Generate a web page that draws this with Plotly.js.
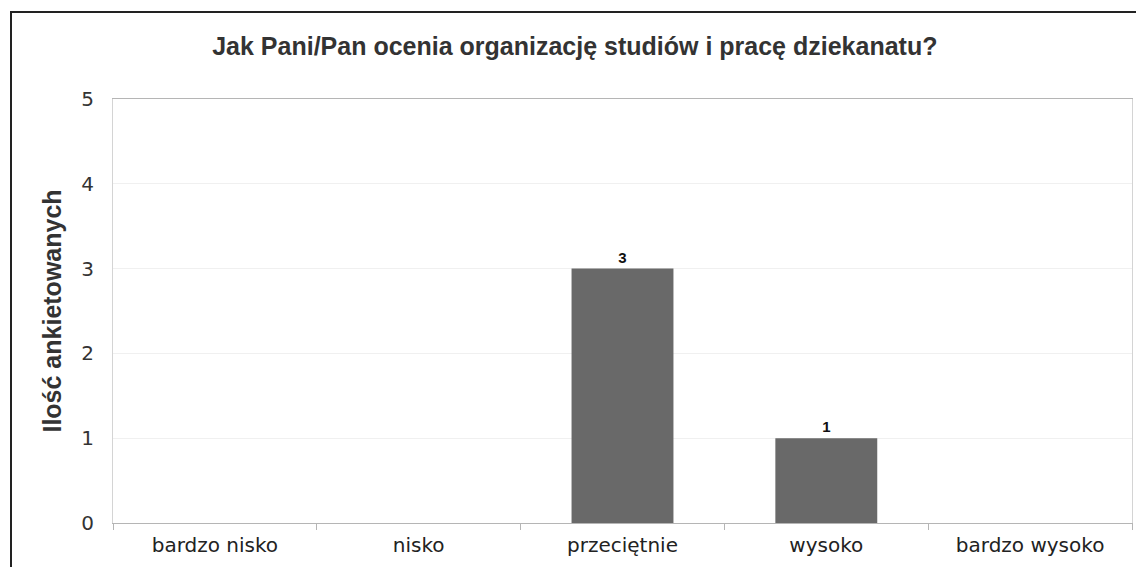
<!DOCTYPE html>
<html>
<head>
<meta charset="utf-8">
<script src="https://cdn.plot.ly/plotly-3.0.1.min.js"></script>
<style>
  html, body { margin: 0; padding: 0; background: #fff; }
  #wrap { position: relative; width: 1136px; height: 567px; overflow: hidden; }
  #chart { position: absolute; left: 0; top: 0; width: 1136px; height: 567px; }
  #frame { position: absolute; left: 10px; top: 11px; width: 1200px; height: 700px;
           border-left: 2px solid #222; border-top: 2px solid #222; pointer-events: none; }
</style>
</head>
<body>
<div id="wrap">
  <div id="chart"></div>
  <div id="frame"></div>
</div>
<script>
const categories = ["bardzo nisko", "nisko", "przeciętnie", "wysoko", "bardzo wysoko"];
const counts = [0, 0, 3, 1, 0];
const barLabels = ["", "", "3", "1", ""];
const yTicks = [0, 1, 2, 3, 4, 5];

const trace = {
  type: "bar",
  x: categories,
  y: counts,
  text: barLabels,
  textposition: "outside",
  cliponaxis: false,
  textfont: { family: "Liberation Sans, Arial, sans-serif", size: 15, color: "#111", weight: "bold" },
  marker: { color: "#696969", line: { width: 0 } },
  hoverinfo: "x+y"
};

const layout = {
  width: 1136,
  height: 567,
  paper_bgcolor: "#ffffff",
  plot_bgcolor: "#ffffff",
  margin: { l: 113, r: 4, t: 99, b: 44 },
  bargap: 0.5,
  showlegend: false,
  title: {
    text: "<b>Jak Pani/Pan ocenia organizację studiów i pracę dziekanatu?</b>",
    font: { family: "Liberation Sans, Arial, sans-serif", size: 25, color: "#333" },
    xref: "container", x: 0.506, xanchor: "center",
    yref: "container", y: 0.918, yanchor: "middle"
  },
  xaxis: {
    type: "category",
    showgrid: false,
    showline: true,
    linecolor: "#b5b5b5",
    linewidth: 1,
    mirror: true,
    ticks: "outside",
    tickson: "boundaries",
    ticklen: 6,
    tickcolor: "#b5b5b5",
    ticklabelstandoff: 4,
    tickfont: { family: "DejaVu Sans, Verdana, sans-serif", size: 20, color: "#222" },
    fixedrange: true
  },
  yaxis: {
    range: [0, 5],
    tickvals: yTicks,
    ticktext: yTicks.map(String),
    showgrid: true,
    gridcolor: "#f0f0f0",
    gridwidth: 1,
    zeroline: false,
    showline: true,
    linecolor: "#d4d4d4",
    linewidth: 1,
    mirror: true,
    ticks: "",
    ticklabelstandoff: 14,
    tickfont: { family: "DejaVu Sans, Verdana, sans-serif", size: 20, color: "#333" },
    title: {
      text: "<b>Ilość ankietowanych</b>",
      font: { family: "Liberation Sans, Arial, sans-serif", size: 25, color: "#333" },
      standoff: 12
    },
    fixedrange: true
  }
};

Plotly.newPlot("chart", [trace], layout, { displayModeBar: false, staticPlot: true });
</script>
</body>
</html>
